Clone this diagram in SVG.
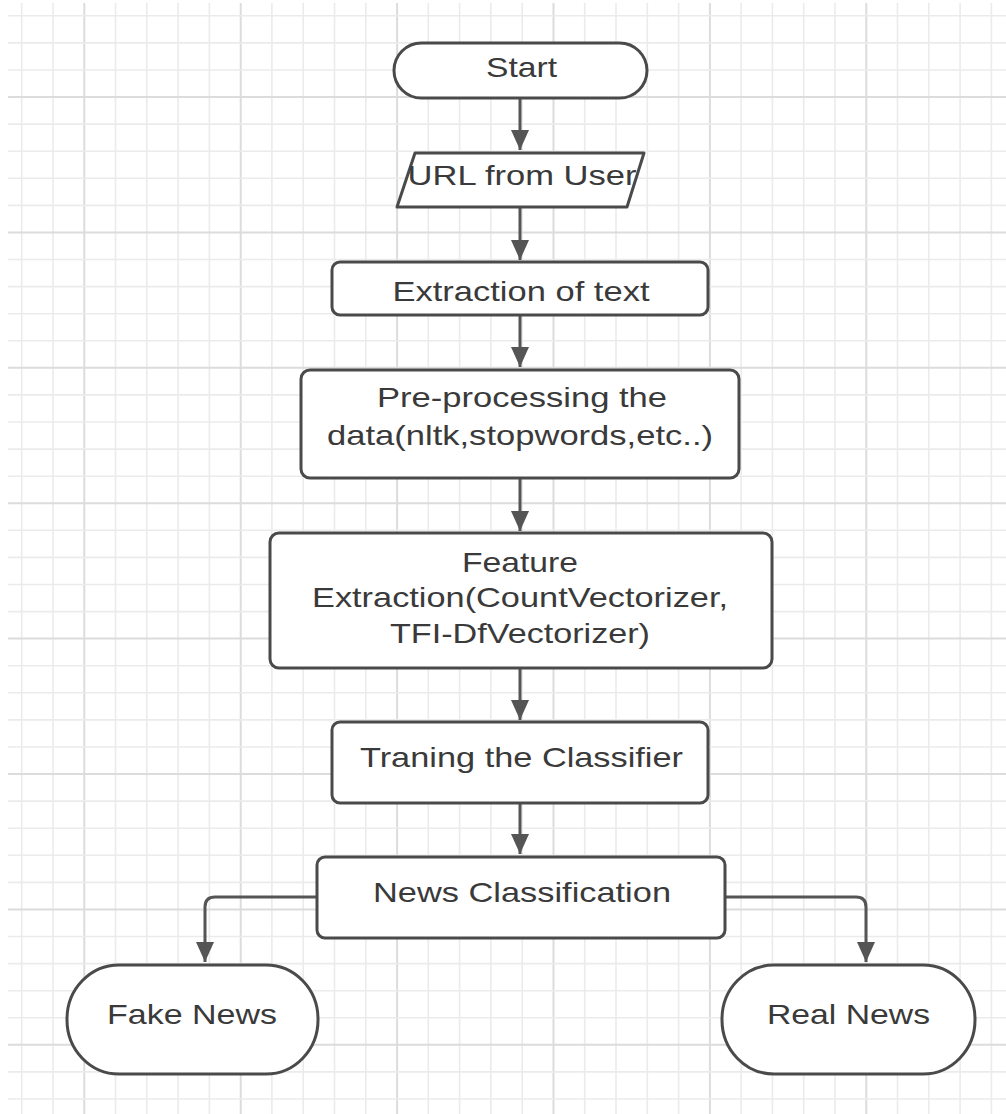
<svg xmlns="http://www.w3.org/2000/svg" width="1006" height="1114" viewBox="0 0 1006 1114">
<defs>
<style>
.minor{stroke:#ebebeb;stroke-width:1.6;fill:none}
.major{stroke:#dcdcdc;stroke-width:2;fill:none}
.node{fill:#ffffff;stroke:#4a4a4a;stroke-width:3;stroke-linejoin:round}
.lbl{font-family:"Liberation Sans",Arial,sans-serif;font-size:28px;fill:#3a3a3a;text-anchor:middle}
.edge{fill:none;stroke:#555555;stroke-width:3;marker-end:url(#arrow)}
</style>
<marker id="arrow" markerUnits="userSpaceOnUse" markerWidth="20" markerHeight="18" refX="20" refY="9" orient="auto" viewBox="0 0 20 18">
<path d="M0,0 L20,9 L0,18 Z" fill="#555555"/>
</marker>
</defs>
<rect x="0" y="0" width="1006" height="1114" fill="#ffffff"/>
<g id="grid">
<path class="minor" d="M21.7,3V1114M53,3V1114M115.5,3V1114M146.8,3V1114M178.1,3V1114M209.4,3V1114M271.9,3V1114M303.2,3V1114M334.5,3V1114M365.8,3V1114M428.3,3V1114M459.6,3V1114M490.9,3V1114M522.2,3V1114M584.7,3V1114M616,3V1114M647.3,3V1114M678.6,3V1114M741.1,3V1114M772.4,3V1114M803.7,3V1114M835,3V1114M897.5,3V1114M928.8,3V1114M960.1,3V1114M991.4,3V1114"/>
<path class="major" d="M84.3,3V1114M240.7,3V1114M397.1,3V1114M553.5,3V1114M709.9,3V1114M866.3,3V1114"/>
<path class="minor" d="M8,15.8H1006M8,42.9H1006M8,70H1006M8,124.1H1006M8,151.2H1006M8,178.3H1006M8,205.4H1006M8,259.5H1006M8,286.6H1006M8,313.7H1006M8,340.8H1006M8,394.9H1006M8,422H1006M8,449.1H1006M8,476.2H1006M8,530.3H1006M8,557.4H1006M8,584.5H1006M8,611.6H1006M8,665.7H1006M8,692.8H1006M8,719.9H1006M8,747H1006M8,801.1H1006M8,828.2H1006M8,855.3H1006M8,882.4H1006M8,936.5H1006M8,963.6H1006M8,990.7H1006M8,1017.8H1006M8,1071.9H1006M8,1099H1006"/>
<path class="major" d="M8,97H1006M8,232.4H1006M8,367.8H1006M8,503.2H1006M8,638.6H1006M8,774H1006M8,909.4H1006M8,1044.8H1006"/>
</g>
<g id="connectors">
<path class="edge" d="M520,98 V150"/>
<path class="edge" d="M520,207 V260"/>
<path class="edge" d="M520,315 V367"/>
<path class="edge" d="M520,478 V531"/>
<path class="edge" d="M520,668 V720"/>
<path class="edge" d="M520,803 V854"/>
<path class="edge" d="M317,897 H215 Q205,897 205,907 V962"/>
<path class="edge" d="M725,897 H856 Q866,897 866,907 V962"/>
</g>
<g id="start">
<rect class="node" x="394" y="43" width="253" height="55" rx="27.5" ry="27.5"/>
<text class="lbl" x="521.5" y="76.7" textLength="71" lengthAdjust="spacingAndGlyphs">Start</text>
</g>
<g id="url">
<polygon class="node" points="415,153 644,153 627,207 397,207"/>
<text class="lbl" x="522" y="185" textLength="229" lengthAdjust="spacingAndGlyphs">URL from User</text>
</g>
<g id="extraction">
<rect class="node" x="332" y="262" width="376" height="53" rx="8" ry="8"/>
<text class="lbl" x="521" y="300.7" textLength="257" lengthAdjust="spacingAndGlyphs">Extraction of text</text>
</g>
<g id="preprocessing">
<rect class="node" x="301" y="370" width="438" height="108" rx="9" ry="9"/>
<text class="lbl" x="522" y="407" textLength="290" lengthAdjust="spacingAndGlyphs">Pre-processing the</text>
<text class="lbl" x="520" y="445" textLength="386" lengthAdjust="spacingAndGlyphs">data(nltk,stopwords,etc..)</text>
</g>
<g id="feature">
<rect class="node" x="270" y="533" width="502" height="135" rx="9" ry="9"/>
<text class="lbl" x="520" y="571.7" textLength="116" lengthAdjust="spacingAndGlyphs">Feature</text>
<text class="lbl" x="520" y="607.3" textLength="416" lengthAdjust="spacingAndGlyphs">Extraction(CountVectorizer,</text>
<text class="lbl" x="520" y="642.7" textLength="260" lengthAdjust="spacingAndGlyphs">TFI-DfVectorizer)</text>
</g>
<g id="training">
<rect class="node" x="332" y="722" width="376" height="81" rx="8" ry="8"/>
<text class="lbl" x="521.5" y="766.7" textLength="323" lengthAdjust="spacingAndGlyphs">Traning the Classifier</text>
</g>
<g id="classification">
<rect class="node" x="317" y="857" width="408" height="81" rx="8" ry="8"/>
<text class="lbl" x="522" y="901.7" textLength="298" lengthAdjust="spacingAndGlyphs">News Classification</text>
</g>
<g id="fake">
<rect class="node" x="67" y="965" width="251" height="109" rx="52" ry="54"/>
<text class="lbl" x="192" y="1024" textLength="170" lengthAdjust="spacingAndGlyphs">Fake News</text>
</g>
<g id="real">
<rect class="node" x="722" y="965" width="253" height="109" rx="52" ry="54"/>
<text class="lbl" x="848.5" y="1024" textLength="163" lengthAdjust="spacingAndGlyphs">Real News</text>
</g>
</svg>
